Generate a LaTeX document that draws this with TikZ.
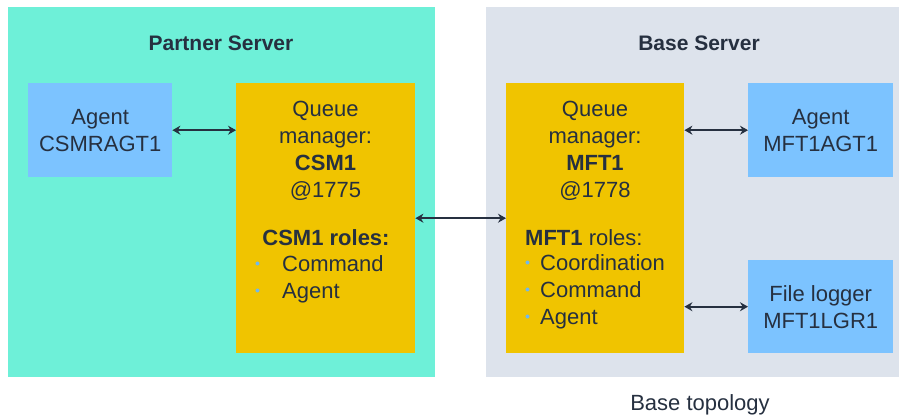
\documentclass[tikz,border=0pt]{standalone}
\usepackage{fontspec}
\setmainfont{Liberation Sans}
\usetikzlibrary{arrows.meta}
\definecolor{partnerbg}{HTML}{6EF0D8}
\definecolor{basebg}{HTML}{DDE3EC}
\definecolor{qmgrbg}{HTML}{F0C400}
\definecolor{agentbg}{HTML}{7CC3FF}
\definecolor{inkdark}{HTML}{263040}
\definecolor{dotblue}{HTML}{6FB8F0}
\newcommand{\roledot}{\raisebox{5pt}{\textcolor{dotblue}{\fontsize{10}{10}\selectfont$\bullet$}}}
\tikzset{
  every node/.style={text=inkdark,font=\fontsize{22}{27}\selectfont},
  box/.style={inner sep=0pt,anchor=north west,align=center},
  link/.style={line width=1.8pt,draw=inkdark,{Stealth[length=8pt,width=9pt]}-{Stealth[length=8pt,width=9pt]}}
}
\begin{document}
\begin{tikzpicture}[x=1pt,y=-1pt]
\useasboundingbox (0,0) rectangle (899,418);
% servers
\node[box,fill=partnerbg,minimum width=427pt,minimum height=370pt] (partner) at (8,7) {};
\node[box,fill=basebg,minimum width=413pt,minimum height=370pt] (base) at (486,7) {};
\node[font=\fontsize{21}{27}\selectfont\bfseries] (partnertitle) at (221,43) {Partner Server};
\node[font=\fontsize{21}{27}\selectfont\bfseries] (basetitle) at (699,43) {Base Server};
\node (caption) at (700,405) {Base topology};
% agents and logger
\node[box,fill=agentbg,minimum width=144pt,minimum height=94pt] (csmagent) at (28,83) {Agent\\CSMRAGT1};
\node[box,fill=agentbg,minimum width=145pt,minimum height=94pt] (mftagent) at (748,83) {Agent\\MFT1AGT1};
\node[box,fill=agentbg,minimum width=145pt,minimum height=93pt] (mftlogger) at (748,260) {File logger\\MFT1LGR1};
% queue managers
\node[box,fill=qmgrbg,minimum width=179pt,minimum height=270pt] (csm) at (236,83) {};
\node[box,fill=qmgrbg,minimum width=178pt,minimum height=270pt] (mft) at (506,83) {};
\node[align=center] (csmhead) at (325.5,151) {Queue\\manager:\\\textbf{CSM1}\\@1775};
\node[font=\fontsize{22}{27}\selectfont\bfseries] (csmroles) at (326,238) {CSM1 roles:};
\node[anchor=west,align=left,inner sep=0pt] (csmlist) at (255,279) {\makebox[27pt][l]{\roledot}Command\\\makebox[27pt][l]{\roledot}Agent};
\node[align=center] (mfthead) at (595,151) {Queue\\manager:\\\textbf{MFT1}\\@1778};
\node[anchor=west,inner sep=0pt] (mftroles) at (525,238) {\textbf{MFT1} roles:};
\node[anchor=west,align=left,inner sep=0pt] (mftlist) at (525,292) {\makebox[15pt][l]{\roledot}Coordination\\\makebox[15pt][l]{\roledot}Command\\\makebox[15pt][l]{\roledot}Agent};
% links
\draw[link] (csmagent.east) -- (csmagent.east -| csm.west);
\draw[link] (csm.east) -- (mft.west);
\draw[link] (mftagent.west -| mft.east) -- (mftagent.west);
\draw[link] (mftlogger.west -| mft.east) -- (mftlogger.west);
\end{tikzpicture}
\end{document}
